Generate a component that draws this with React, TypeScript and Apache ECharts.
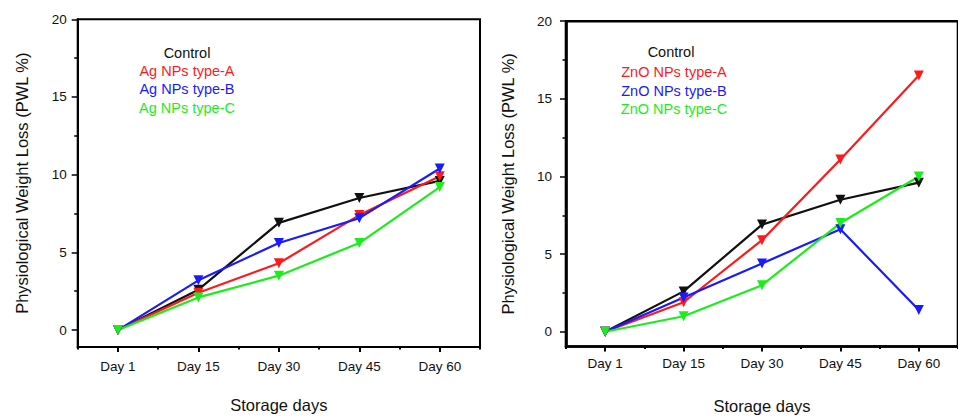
import React, { useEffect, useRef } from "react";
import * as echarts from "echarts";

const days = ["Day 1", "Day 15", "Day 30", "Day 45", "Day 60"];
const yTicks = [0, 5, 10, 15, 20];
const yMinorTicks = [2.5, 7.5, 12.5, 17.5];

const agNames = ["Control", "Ag NPs type-A", "Ag NPs type-B", "Ag NPs type-C"];
const znoNames = ["Control", "ZnO NPs type-A", "ZnO NPs type-B", "ZnO NPs type-C"];

const agControl = [0, 2.6, 6.9, 8.5, 9.6];
const agTypeA = [0, 2.4, 4.3, 7.4, 9.9];
const agTypeB = [0, 3.2, 5.6, 7.2, 10.4];
const agTypeC = [0, 2.1, 3.5, 5.6, 9.2];

const znoControl = [0, 2.6, 6.9, 8.5, 9.6];
const znoTypeA = [0, 1.9, 5.9, 11.1, 16.5];
const znoTypeB = [0, 2.2, 4.4, 6.6, 1.4];
const znoTypeC = [0, 1.0, 3.0, 7.0, 10.0];

const colors = ["#111111", "#ff1a1a", "#1a1aff", "#1aee1a"];

const FONT = "'Liberation Sans', Arial, sans-serif";
const yTitle = "Physiological Weight Loss (PWL %)";
const xTitle = "Storage days";

export default function App() {
  const ref = useRef<HTMLDivElement>(null);
  useEffect(() => {
    if (!ref.current) return;
    const chart = echarts.init(ref.current, undefined, { renderer: "svg" });

    const grids = [
      { left: 77.7, top: 19.3, width: 402.3, height: 327.7, lw: 2, min: -1.09, xGap: 49.5, yGap: 47.5, yLabMargin: 11, xLabMargin: 12 },
      { left: 566, top: 21.2, width: 403.5, height: 329.5, lw: 2.6, min: -0.95, xGap: 50.5, yGap: 49.5, yLabMargin: 14, xLabMargin: 10 },
    ];

    const xAxes: any[] = [];
    const yAxes: any[] = [];
    grids.forEach((g, i) => {
      xAxes.push({
        type: "category",
        gridIndex: i,
        position: "bottom",
        data: days,
        boundaryGap: true,
        name: xTitle,
        nameLocation: "middle",
        nameGap: g.xGap,
        nameTextStyle: { fontFamily: FONT, fontSize: 16.5, color: "#111" },
        axisLine: { show: true, onZero: false, lineStyle: { color: "#000", width: g.lw } },
        axisTick: { show: true, interval: 0, alignWithLabel: true, length: 5, lineStyle: { color: "#000", width: 2 } },
        axisLabel: { fontFamily: FONT, fontSize: 13.5, color: "#111", margin: g.xLabMargin },
        splitLine: { show: false },
      });
      xAxes.push({
        type: "category",
        gridIndex: i,
        position: "bottom",
        data: days,
        boundaryGap: true,
        axisLine: { show: false, onZero: false },
        axisTick: { show: true, interval: 0, alignWithLabel: false, length: 2.5, lineStyle: { color: "#000", width: 2 } },
        axisLabel: { show: false },
        splitLine: { show: false },
      });
      yAxes.push({
        type: "value",
        gridIndex: i,
        position: "left",
        min: g.min,
        max: 20,
        name: yTitle,
        nameLocation: "middle",
        nameGap: g.yGap,
        nameTextStyle: { fontFamily: FONT, fontSize: 16.5, color: "#111" },
        axisLine: { show: true, onZero: false, lineStyle: { color: "#000", width: g.lw } },
        axisTick: { show: true, length: 6, customValues: yTicks, lineStyle: { color: "#000", width: 1.5 } },
        axisLabel: { fontFamily: FONT, fontSize: 13.5, color: "#111", margin: g.yLabMargin, customValues: yTicks },
        splitLine: { show: false },
      });
      yAxes.push({
        type: "value",
        gridIndex: i,
        position: "left",
        offset: 0,
        min: g.min,
        max: 20,
        axisLine: { show: false, onZero: false },
        axisTick: { show: true, length: 3.5, customValues: yMinorTicks, lineStyle: { color: "#000", width: 1.5 } },
        axisLabel: { show: false, customValues: yMinorTicks },
        splitLine: { show: false },
      });
    });

    const mkSeries = (names: string[], data: number[][], gi: number) =>
      names.map((n, k) => ({
        name: n,
        type: "line",
        xAxisIndex: gi * 2,
        yAxisIndex: gi * 2,
        data: data[k],
        symbol: "triangle",
        symbolRotate: 180,
        symbolSize: 10,
        showSymbol: true,
        lineStyle: { color: colors[k], width: 2.2 },
        itemStyle: { color: colors[k] },
        z: 3,
      }));

    const series = [
      ...mkSeries(agNames, [agControl, agTypeA, agTypeB, agTypeC], 0),
      ...mkSeries(znoNames, [znoControl, znoTypeA, znoTypeB, znoTypeC], 1),
    ];

    const legendText = (names: string[], cx: number[], ys: number[]) =>
      names.map((n, k) => ({
        type: "text",
        x: cx[k],
        y: ys[k],
        style: {
          text: n,
          fill: colors[k],
          fontFamily: FONT,
          fontSize: 14.5,
          align: "center",
          verticalAlign: "middle",
        },
      }));

    chart.setOption({
      animation: false,
      backgroundColor: "#fff",
      grid: grids.map((g) => ({
        left: g.left,
        top: g.top,
        width: g.width,
        height: g.height,
        show: true,
        borderColor: "#000",
        borderWidth: g.lw,
        backgroundColor: "transparent",
        containLabel: false,
      })),
      xAxis: xAxes,
      yAxis: yAxes,
      series,
      graphic: [
        ...legendText(agNames, [187, 187, 187, 187], [52.7, 71, 89.3, 107.7]),
        ...legendText(znoNames, [671, 674, 674, 674], [51.7, 72.3, 90.7, 109]),
      ],
    });
    return () => chart.dispose();
  }, []);
  return (
    <div
      ref={ref}
      style={{ position: "absolute", left: 0, top: 0, width: 958, height: 419 }}
    />
  );
}
